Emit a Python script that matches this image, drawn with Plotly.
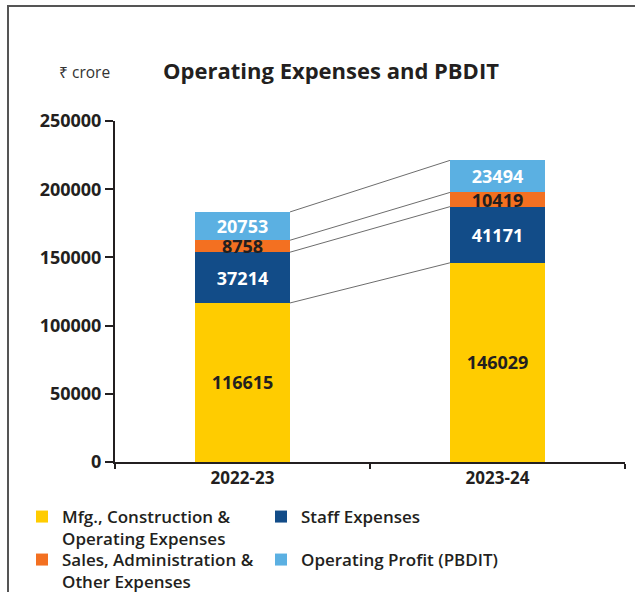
import plotly.graph_objects as go

categories = ["2022-23", "2023-24"]
mfg = [116615, 146029]
staff = [37214, 41171]
sales = [8758, 10419]
pbdit = [20753, 23494]
yticks = [0, 50000, 100000, 150000, 200000, 250000]

series = [
    ("Mfg., Construction &<br>Operating Expenses", mfg, "#FFCC00", "#231F20"),
    ("Staff Expenses", staff, "#124C88", "#FFFFFF"),
    ("Sales, Administration &<br>Other Expenses", sales, "#F37021", "#231F20"),
    ("Operating Profit (PBDIT)", pbdit, "#5BB0E2", "#FFFFFF"),
]

W, H = 635, 592
L, R, T, B = 115, 10, 121, 130
pw, ph = W - L - R, H - T - B
FONT = "Open Sans"
BAR_W = 0.373

fig = go.Figure()
legend_names = ["legend", "legend2", "legend3", "legend4"]
for i, (name, vals, col, tcol) in enumerate(series):
    fig.add_trace(go.Bar(
        x=categories, y=vals, name=name, marker=dict(color=col, line=dict(width=0)),
        width=BAR_W, text=[str(v) for v in vals], textposition="inside",
        insidetextanchor="middle", constraintext="none",
        textfont=dict(family=FONT, size=18, color=tcol, weight=700),
        legend=legend_names[i],
    ))

# connector lines between stacked segment tops
cum = [[0, 0]]
for _, vals, _, _ in series:
    cum.append([cum[-1][j] + vals[j] for j in range(2)])
shapes = []
for level in cum[1:]:
    shapes.append(dict(type="line", xref="x", yref="y",
                       x0=0 + BAR_W / 2, x1=1 - BAR_W / 2, y0=level[0], y1=level[1],
                       line=dict(color="#6d6d6d", width=1)))

# frame (left and top)
def px_x(p):
    return (p - L) / pw
def px_y(p):
    return (H - B - p) / ph
shapes.append(dict(type="line", xref="paper", yref="paper", x0=px_x(8), x1=px_x(8),
                   y0=px_y(5), y1=px_y(600), line=dict(color="#555555", width=2)))
shapes.append(dict(type="line", xref="paper", yref="paper", x0=px_x(7), x1=px_x(640),
                   y0=px_y(6), y1=px_y(6), line=dict(color="#555555", width=2)))

legend_pos = [(22, 499), (261, 499), (22, 542), (261, 542)]
layout_legends = {}
for ln, (lx, ly) in zip(legend_names, legend_pos):
    layout_legends[ln] = dict(
        xref="container", yref="container", x=lx / W, y=1 - ly / H,
        xanchor="left", yanchor="top", valign="top", bgcolor="rgba(0,0,0,0)",
        font=dict(family=FONT, size=17, color="#231F20", weight=600),
        itemclick=False, itemdoubleclick=False, tracegroupgap=0,
    )

fig.update_layout(
    width=W, height=H, barmode="stack", bargap=1 - BAR_W,
    margin=dict(l=L, r=R, t=T, b=B, autoexpand=False),
    paper_bgcolor="white", plot_bgcolor="white",
    showlegend=True, shapes=shapes,
    uniformtext=dict(minsize=18, mode="show"),
    font=dict(family=FONT, color="#231F20"),
    title=dict(text="Operating Expenses and PBDIT", xref="container", yref="container",
               x=331 / W, y=1 - 71 / H, xanchor="center", yanchor="middle",
               font=dict(family=FONT, size=22, color="#231F20", weight=700)),
    annotations=[dict(text="₹ crore", xref="paper", yref="paper", x=px_x(57), y=px_y(72),
                      xanchor="left", yanchor="middle", showarrow=False,
                      font=dict(family=FONT, size=15.5, color="#333333"))],
    xaxis=dict(type="category", showline=True, linecolor="#231F20", linewidth=2,
               ticks="outside", tickson="boundaries", ticklen=5, tickwidth=2, tickcolor="#231F20",
               tickfont=dict(family=FONT, size=17, color="#231F20", weight=700),
               showgrid=False, zeroline=False, fixedrange=True),
    yaxis=dict(range=[0, 250000], tickvals=yticks, ticktext=[str(v) for v in yticks],
               showline=True, linecolor="#231F20", linewidth=2,
               ticks="outside", ticklen=8, tickwidth=2, tickcolor="#231F20",
               tickfont=dict(family=FONT, size=18, color="#231F20", weight=700),
               showgrid=False, zeroline=False, fixedrange=True),
    **layout_legends,
)

fig.write_html("out.html", config={"displayModeBar": False},
               post_script="document.body.style.margin='0';document.body.style.padding='0';")
